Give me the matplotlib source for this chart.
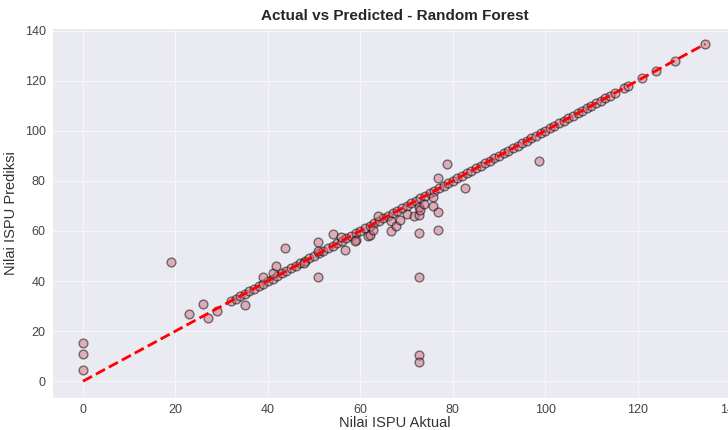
import matplotlib
matplotlib.use('Agg')
import matplotlib.pyplot as plt
import seaborn as sns

# points that were predicted (almost) exactly
exact = [32, 33, 34, 35, 36, 37, 38, 39, 40, 41, 42, 43, 44, 45, 46, 47, 48, 49, 50,
         51, 52, 53, 54, 55, 56, 57, 58, 59, 60, 61, 62, 63, 64, 65, 66, 67, 68, 69, 70,
         71, 72, 73, 74, 75, 76, 77, 78, 79, 80, 81, 82, 83, 84, 85, 86, 87, 88, 89, 90,
         91, 92, 93, 94, 95, 96, 97, 98, 99, 100, 101, 102, 103, 104, 105, 106, 107, 108,
         109, 110, 111, 112, 113, 114, 115, 117, 118, 121, 124, 128, 134.6]

# points with a visible error
actual_err = [0, 0, 0, 19, 23, 26, 27, 29, 35, 39, 41, 41.8, 43.7, 47.8, 50.8, 50.8,
              50.8, 54, 55.8, 56.7, 59, 58.9, 61.7, 62, 62.8, 63.8, 66.7, 66.7, 67.7,
              68.6, 70, 71.6, 72.7, 72.7, 72.7, 72.7, 72.7, 72.7, 73, 73.8, 75.8, 75.8,
              76.8, 76.8, 76.8, 78.8, 82.7, 98.7]
pred_err = [15.4, 11, 4.6, 47.4, 27, 31, 25.3, 28, 30.4, 41.8, 43, 45.8, 53, 47, 55.7,
            41.5, 52, 58.8, 57.6, 52.5, 56.4, 56, 58, 58.4, 60.4, 66, 60, 64, 62,
            64.3, 66.7, 65.9, 59.2, 41.8, 10.3, 7.5, 66.5, 69.5, 68.3, 70.7, 69.9, 73.4,
            81.3, 67.7, 60.2, 86.9, 77, 88]

y_test = exact + actual_err
y_pred = exact + pred_err

sns.set_style('darkgrid')
plt.rcParams['font.family'] = ['Liberation Sans', 'DejaVu Sans']

fig = plt.figure(figsize=(7.28, 4.30), dpi=100)
ax = fig.add_axes([52 / 728, 32 / 430, 686 / 728, 370 / 430])
ax.grid(True, color='white', alpha=0.6, lw=0.8)

ax.scatter(y_test, y_pred, s=40, color='#d0707f', alpha=0.5, edgecolors='k', linewidths=1)
lo, hi = min(y_test), max(y_test)
ax.plot([lo, hi], [lo, hi], 'r--', lw=2)

ax.set_xlim(-6.7, 141.7)
ax.set_ylim(-6.7, 141.0)
ax.set_xticks([0, 20, 40, 60, 80, 100, 120, 140])
ax.set_yticks([0, 20, 40, 60, 80, 100, 120, 140])
ax.tick_params(labelsize=9, colors='#444444')
ax.tick_params(axis='x', pad=1)
ax.tick_params(axis='y', pad=1)
ax.set_xlabel('Nilai ISPU Aktual', fontsize=10.5, color='#333333', labelpad=0)
ax.set_ylabel('Nilai ISPU Prediksi', fontsize=10.5, color='#333333', labelpad=5)
ax.set_title('Actual vs Predicted - Random Forest', fontsize=11, fontweight='bold', pad=6)

fig.savefig('out.png', dpi=100)
